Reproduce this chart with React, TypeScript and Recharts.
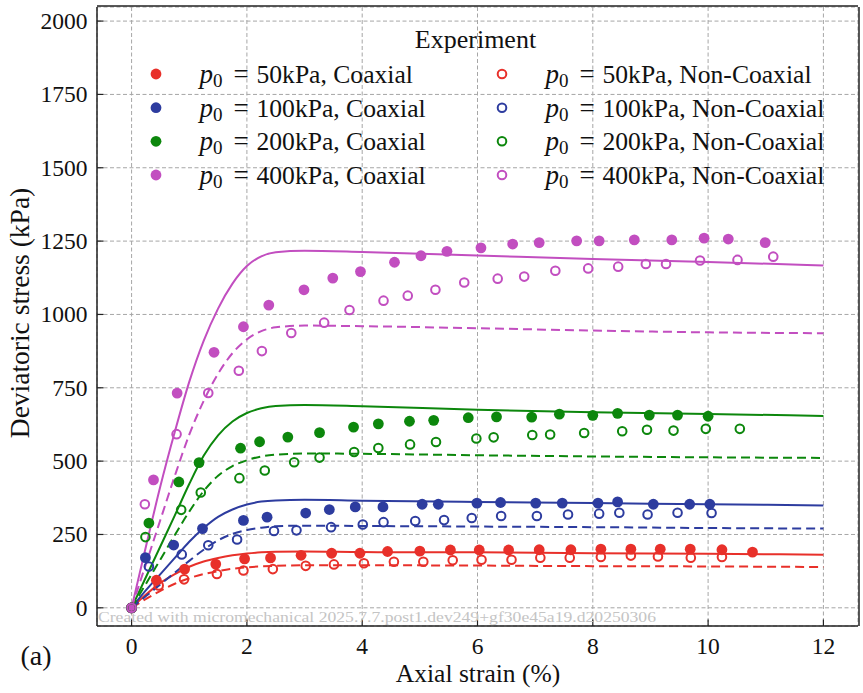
import React from 'react';
import { ComposedChart, Line, Scatter, XAxis, YAxis, CartesianGrid } from 'recharts';

const W = 863;
const H = 693;
const FONT = '"Liberation Serif", "Times New Roman", serif';

const xDomain = [-0.6, 12.6];
const yDomain = [-62, 2048];
const xTicks = [0, 2, 4, 6, 8, 10, 12];
const yTicks = [0, 250, 500, 750, 1000, 1250, 1500, 1750, 2000];
const xMinorTicks = [-0.5, 0.5, 1, 1.5, 2.5, 3, 3.5, 4.5, 5, 5.5, 6.5, 7, 7.5, 8.5, 9, 9.5, 10.5, 11, 11.5, 12.5];
const yMinorTicks = [
  -50, 50, 100, 150, 200, 300, 350, 400, 450, 550, 600, 650, 700, 800, 850, 900, 950,
  1050, 1100, 1150, 1200, 1300, 1350, 1400, 1450, 1550, 1600, 1650, 1700, 1800, 1850, 1900, 1950,
];

// experiment: [axial strain %, deviatoric stress kPa]
const coax50 = [[0, 0], [0.43, 94], [0.92, 132], [1.46, 149], [1.96, 167], [2.41, 170], [2.94, 179], [3.47, 186], [3.96, 186], [4.44, 192], [5.0, 193], [5.53, 197], [6.03, 197], [6.54, 197], [7.07, 198], [7.62, 198], [8.14, 200], [8.66, 200], [9.17, 200], [9.69, 200], [10.24, 198], [10.77, 190]];
const coax100 = [[0, 0], [0.24, 171], [0.73, 214], [1.23, 270], [1.94, 298], [2.35, 309], [3.02, 323], [3.43, 335], [3.88, 344], [4.36, 344], [5.04, 353], [5.32, 353], [5.99, 357], [6.4, 359], [7.01, 357], [7.47, 357], [8.09, 357], [8.43, 361], [9.05, 353], [9.68, 353], [10.03, 353]];
const coax200 = [[0, 0], [0.3, 289], [0.82, 429], [1.17, 495], [1.89, 544], [2.22, 566], [2.71, 582], [3.26, 597], [3.85, 616], [4.28, 627], [4.82, 636], [5.24, 639], [5.84, 648], [6.33, 651], [6.94, 650], [7.42, 660], [8.0, 656], [8.43, 663], [8.98, 657], [9.47, 657], [10.0, 653]];
const coax400 = [[0, 0], [0.38, 436], [0.79, 732], [1.43, 871], [1.94, 958], [2.38, 1032], [2.99, 1084], [3.49, 1124], [3.97, 1146], [4.56, 1178], [5.02, 1200], [5.47, 1215], [6.06, 1227], [6.61, 1240], [7.07, 1245], [7.72, 1251], [8.11, 1251], [8.72, 1254], [9.37, 1254], [9.93, 1260], [10.35, 1257], [10.99, 1245]];
const nonCoax50 = [[0, 0], [0.47, 76], [0.91, 97], [1.48, 115], [1.94, 127], [2.45, 132], [3.02, 143], [3.51, 148], [4.03, 152], [4.55, 157], [5.06, 157], [5.57, 162], [6.07, 164], [6.59, 164], [7.09, 171], [7.6, 171], [8.14, 173], [8.66, 178], [9.13, 175], [9.7, 171], [10.24, 173]];
const nonCoax100 = [[0, 0], [0.3, 141], [0.87, 182], [1.33, 213], [1.83, 233], [2.47, 262], [2.86, 264], [3.46, 275], [4.01, 284], [4.37, 292], [4.92, 296], [5.42, 299], [5.9, 306], [6.41, 313], [7.03, 313], [7.57, 318], [8.11, 321], [8.46, 324], [8.95, 318], [9.47, 324], [10.06, 323]];
const nonCoax200 = [[0, 0], [0.24, 241], [0.86, 334], [1.2, 393], [1.87, 442], [2.31, 468], [2.82, 496], [3.26, 512], [3.86, 531], [4.28, 545], [4.83, 557], [5.28, 565], [5.98, 577], [6.28, 581], [6.95, 589], [7.26, 591], [7.85, 596], [8.51, 602], [8.94, 607], [9.4, 604], [9.96, 610], [10.55, 610]];
const nonCoax400 = [[0, 0], [0.23, 353], [0.78, 592], [1.33, 732], [1.86, 808], [2.26, 875], [2.77, 937], [3.34, 972], [3.78, 1015], [4.37, 1047], [4.79, 1064], [5.27, 1084], [5.77, 1109], [6.35, 1122], [6.81, 1129], [7.35, 1149], [7.92, 1157], [8.44, 1163], [8.92, 1172], [9.27, 1172], [9.86, 1184], [10.51, 1186], [11.13, 1197]];

// model curves
const modelStrain = [0, 0.25, 0.5, 0.75, 1, 1.25, 1.5, 1.75, 2, 2.25, 2.5, 3, 4, 6, 8, 10, 12];
const modelCoax50 = [0, 45, 85, 115, 140, 158, 170, 179, 185, 189, 191, 192, 190, 189, 186, 184, 181];
const modelNonCoax50 = [0, 30, 58, 82, 101, 115, 125, 133, 138, 141, 143, 145, 145, 144, 142, 141, 139];
const modelCoax100 = [0, 60, 115, 170, 225, 272, 310, 335, 352, 362, 366, 368, 365, 361, 357, 353, 349];
const modelNonCoax100 = [0, 40, 80, 120, 160, 198, 230, 252, 265, 273, 278, 280, 279, 277, 275, 272, 270];
const modelCoax200 = [0, 105, 210, 315, 422, 518, 588, 635, 664, 680, 688, 691, 687, 675, 667, 661, 654];
const modelNonCoax200 = [0, 82, 165, 248, 328, 398, 450, 483, 503, 516, 522, 526, 525, 520, 516, 513, 511];
const modelCoax400 = [0, 210, 415, 600, 770, 910, 1020, 1105, 1165, 1198, 1212, 1217, 1213, 1201, 1189, 1179, 1167];
const modelNonCoax400 = [0, 150, 300, 450, 590, 705, 798, 868, 915, 943, 956, 962, 960, 953, 945, 939, 936];

const pressures = ['50', '100', '200', '400'];
const colors = ['#e8302a', '#2d3c9f', '#0c870c', '#c24ec0'];

const coaxSets = [coax50, coax100, coax200, coax400];
const nonCoaxSets = [nonCoax50, nonCoax100, nonCoax200, nonCoax400];
const modelCoaxSets = [modelCoax50, modelCoax100, modelCoax200, modelCoax400];
const modelNonCoaxSets = [modelNonCoax50, modelNonCoax100, modelNonCoax200, modelNonCoax400];

const toPoints = (pairs: number[][]) => pairs.map(([x, y]) => ({ x, y }));
const toCurve = (vals: number[]) => modelStrain.map((x, i) => ({ x, y: vals[i] }));

const filledDot = (color: string) => (p: any) => <circle cx={p.cx} cy={p.cy} r={5.4} fill={color} />;
const openDot = (color: string) => (p: any) => (
  <circle cx={p.cx} cy={p.cy} r={4.3} fill="none" stroke={color} strokeWidth={2} />
);

const axisLine = { stroke: '#222', strokeWidth: 1.5 };
const tickLine = { stroke: '#222', strokeWidth: 1.2 };

const XTick = (p: any) => (
  <text x={p.x} y={p.y} dy="0.7em" textAnchor="middle" fontSize={23.5} fontFamily={FONT} fill="#111">
    {p.payload.value}
  </text>
);
const YTick = (p: any) => (
  <text x={p.x} y={p.y} dy="0.34em" textAnchor="end" fontSize={23.5} fontFamily={FONT} fill="#111">
    {p.payload.value}
  </text>
);

function LegendOverlay() {
  const rowY = [74, 107.7, 141.3, 175];
  const cols = [
    { mx: 156, tx: 199.5, kind: 'Coaxial', open: false },
    { mx: 502, tx: 545.5, kind: 'Non-Coaxial', open: true },
  ];
  return (
    <g fontFamily={FONT} fill="#111">
      <text x={475.5} y={48} fontSize={26} textAnchor="middle">Experiment</text>
      {cols.map((c) =>
        pressures.map((p, i) => (
          <g key={c.kind + p}>
            {c.open ? (
              <circle cx={c.mx} cy={rowY[i]} r={4.3} fill="none" stroke={colors[i]} strokeWidth={2} />
            ) : (
              <circle cx={c.mx} cy={rowY[i]} r={5.4} fill={colors[i]} />
            )}
            <text x={c.tx} y={rowY[i] + 9} fontSize={27}>
              <tspan fontStyle="italic">p</tspan>
              <tspan fontSize={19} dy={4}>0</tspan>
            </text>
            <text x={c.tx + 41.5} y={rowY[i] + 9} fontSize={27} textAnchor="middle">=</text>
            <text x={c.tx + 57} y={rowY[i] + 9} fontSize={25.6}>{`${p}kPa, ${c.kind}`}</text>
          </g>
        ))
      )}
    </g>
  );
}

export default function App() {
  return (
    <div style={{ position: 'absolute', left: 0, top: 0, width: W, height: H, background: '#fff', fontFamily: FONT }}>
      <ComposedChart width={W} height={H} margin={{ top: 5, right: 3, bottom: 65, left: 95 }}>
        <CartesianGrid stroke="#a6a6a6" strokeDasharray="4 2.5" strokeWidth={1} />
        <XAxis
          type="number"
          dataKey="x"
          domain={xDomain}
          allowDataOverflow
          ticks={xTicks}
          interval={0}
          height={1}
          tickSize={-6.5}
          tickMargin={18}
          axisLine={axisLine}
          tickLine={tickLine}
          tick={XTick}
        />
        <XAxis xAxisId="minorB" type="number" domain={xDomain} allowDataOverflow ticks={xMinorTicks} interval={0} height={1} tickSize={-3.5} axisLine={false} tickLine={tickLine} tick={false} />
        <XAxis xAxisId="top" orientation="top" type="number" domain={xDomain} allowDataOverflow ticks={xTicks} interval={0} height={1} tickSize={-6.5} axisLine={axisLine} tickLine={tickLine} tick={false} />
        <XAxis xAxisId="minorT" orientation="top" type="number" domain={xDomain} allowDataOverflow ticks={xMinorTicks} interval={0} height={1} tickSize={-3.5} axisLine={false} tickLine={tickLine} tick={false} />
        <YAxis
          type="number"
          dataKey="y"
          domain={yDomain}
          allowDataOverflow
          ticks={yTicks}
          interval={0}
          width={1}
          tickSize={-6.5}
          tickMargin={16}
          axisLine={axisLine}
          tickLine={tickLine}
          tick={YTick}
        />
        <YAxis yAxisId="minorL" type="number" domain={yDomain} allowDataOverflow ticks={yMinorTicks} interval={0} width={1} tickSize={-3.5} axisLine={false} tickLine={tickLine} tick={false} />
        <YAxis yAxisId="right" orientation="right" type="number" domain={yDomain} allowDataOverflow ticks={yTicks} interval={0} width={1} tickSize={-6.5} axisLine={axisLine} tickLine={tickLine} tick={false} />
        <YAxis yAxisId="minorR" orientation="right" type="number" domain={yDomain} allowDataOverflow ticks={yMinorTicks} interval={0} width={1} tickSize={-3.5} axisLine={false} tickLine={tickLine} tick={false} />

        {pressures.map((p, i) => (
          <Line key={'mc' + p} data={toCurve(modelCoaxSets[i])} dataKey="y" type="monotone" stroke={colors[i]} strokeWidth={2} dot={false} activeDot={false} isAnimationActive={false} />
        ))}
        {pressures.map((p, i) => (
          <Line key={'mn' + p} data={toCurve(modelNonCoaxSets[i])} dataKey="y" type="monotone" stroke={colors[i]} strokeWidth={2} strokeDasharray="9 5" dot={false} activeDot={false} isAnimationActive={false} />
        ))}
        {pressures.map((p, i) => (
          <Scatter key={'ec' + p} data={toPoints(coaxSets[i])} fill={colors[i]} shape={filledDot(colors[i])} isAnimationActive={false} />
        ))}
        {pressures.map((p, i) => (
          <Scatter key={'en' + p} data={toPoints(nonCoaxSets[i])} fill={colors[i]} shape={openDot(colors[i])} isAnimationActive={false} />
        ))}
      </ComposedChart>
      <svg width={W} height={H} style={{ position: 'absolute', left: 0, top: 0, pointerEvents: 'none' }}>
        <text x={98} y={622} fontSize={15} fill="#c4c4c4" fontFamily={FONT} textLength={558} lengthAdjust="spacingAndGlyphs">
          Created with micromechanical 2025.7.7.post1.dev249+gf30e45a19.d20250306
        </text>
        <LegendOverlay />
        <text x={478} y={682} fontSize={25.5} textAnchor="middle" fontFamily={FONT} fill="#111">Axial strain (%)</text>
        <text transform="translate(29,313) rotate(-90)" fontSize={27.5} textAnchor="middle" fontFamily={FONT} fill="#111">Deviatoric stress (kPa)</text>
        <text x={20.5} y={665} fontSize={28} fontFamily={FONT} fill="#111">(a)</text>
      </svg>
    </div>
  );
}
